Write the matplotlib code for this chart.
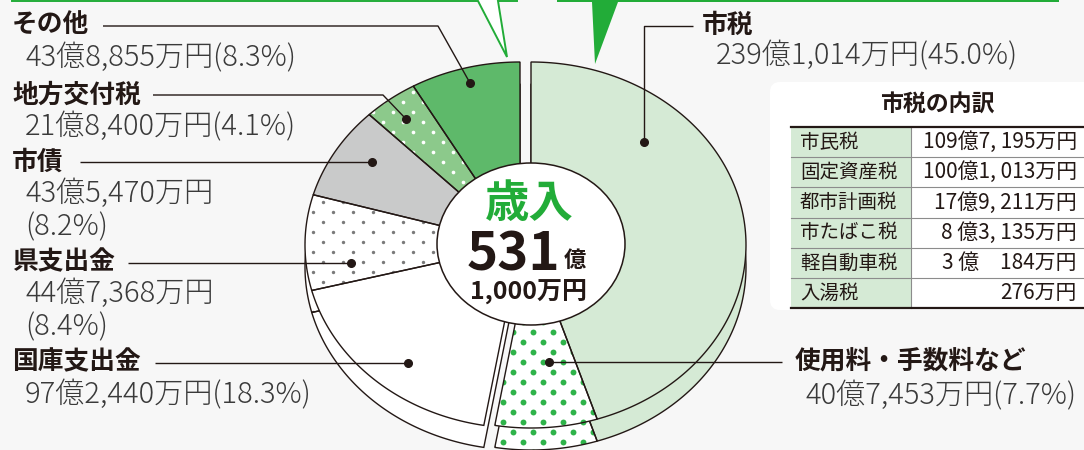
import matplotlib
matplotlib.use('Agg')
import matplotlib.pyplot as plt
from matplotlib.patches import Polygon, Ellipse, Rectangle, FancyBboxPatch
import numpy as np

plt.rcParams['font.family'] = ['Noto Sans CJK JP', 'DejaVu Sans']

# 歳入の内訳 (万円)  -- clockwise from 12 o'clock
names = ['市税', '使用料・手数料など', '国庫支出金', '県支出金', '市債', '地方交付税', 'その他']
amounts = [2391014, 407453, 972440, 447368, 435470, 218400, 438855]
amount_labels = ['239億1,014万円', '40億7,453万円', '97億2,440万円', '44億7,368万円',
                 '43億5,470万円', '21億8,400万円', '43億8,855万円']
pcts = [45.0, 7.7, 18.3, 8.4, 8.2, 4.1, 8.3]

# 市税の内訳
tax_items = ['市民税', '固定資産税', '都市計画税', '市たばこ税', '軽自動車税', '入湯税']
tax_values = ['109億7, 195万円', '100億1, 013万円', '17億9, 211万円',
              '8 億3, 135万円', '3 億　184万円', '276万円']

total_label = ('歳入', '531', '億', '1,000万円')

GREEN = '#22ac38'
INK = '#231815'
GRAY_TXT = '#3a3a3a'
BG = '#f7f7f7'

# face colour, dot colour, dot size
styles = [
    ('#d5ead5', None, 0),
    ('#ffffff', '#2fb34a', 18),
    ('#ffffff', None, 0),
    ('#ffffff', '#7a7a7a', 6),
    ('#c9caca', None, 0),
    ('#8cc98b', '#ffffff', 7),
    ('#5eb96a', None, 0),
]

CX_A, CX_B, CY, RX, RY, DEPTH = 531, 520, 245, 215, 183, 22

fig = plt.figure(figsize=(10.84, 4.5), dpi=100)
fig.patch.set_facecolor(BG)
ax = fig.add_axes([0, 0, 1, 1])
ax.set_xlim(0, 1084)
ax.set_ylim(450, 0)
ax.axis('off')

angles = np.concatenate([[0], np.cumsum(amounts) / sum(amounts) * 360])


def wedge_pts(cx, cy, a0, a1):
    t = np.radians(np.linspace(a0, a1, 150))
    arc = np.column_stack([cx + RX * np.sin(t), cy - RY * np.cos(t)])
    return np.vstack([[cx, cy], arc])


# staggered dot grid used for the patterned slices
gx, gy = np.meshgrid(np.arange(0, 1100, 10), np.arange(0, 470, 10))
keep = ((gx // 10 + gy // 10) % 2 == 0)
grid_x, grid_y = gx[keep] + 3, gy[keep] + 2

for layer, dy, z in [('side', DEPTH, 1), ('top', 0, 2)]:
    for i in range(len(amounts)):
        cx = CX_A if i < 2 else CX_B
        face, dotc, ds = styles[i]
        pts = wedge_pts(cx, CY + dy, angles[i], angles[i + 1])
        poly = Polygon(pts, closed=True, fc=face, ec='none', zorder=z)
        ax.add_patch(poly)
        if dotc:
            sc = ax.scatter(grid_x, grid_y, s=ds, c=dotc, linewidths=0, zorder=z + 0.1)
            sc.set_clip_path(poly)
        ax.add_patch(Polygon(pts, closed=True, fill=False, ec=INK, lw=1.0, zorder=z + 0.2))

# centre
ax.add_patch(Ellipse((531, 244), 188, 162, fc='white', ec=INK, lw=1.1, zorder=3))
ax.text(529, 204, total_label[0], color=GREEN, fontsize=32, fontweight='bold',
        ha='center', va='center', zorder=4)
ax.text(513, 255, total_label[1], color=INK, fontsize=38, fontweight='bold',
        ha='center', va='center', zorder=4)
ax.text(575, 260, total_label[2], color=INK, fontsize=16, fontweight='bold',
        ha='center', va='center', zorder=4)
ax.text(529, 292, total_label[3], color=INK, fontsize=18, fontweight='bold',
        ha='center', va='center', zorder=4)

# top call-outs
ax.add_patch(Polygon([(12, -10), (12, 1), (478, 1), (507, 57), (498, 1), (517, 1), (517, -10)],
                     closed=True, fc='white', ec=GREEN, lw=1.4, zorder=5))
ax.add_patch(Polygon([(557, -10), (557, 2), (592, 2), (595, 64), (618, 2), (1059, 2), (1059, -10)],
                     closed=True, fc=GREEN, ec='none', zorder=5))


def pct(p):
    return f'({p:.1f}%)'


def leader(xs, ys):
    ax.plot(xs, ys, color=INK, lw=1.0, zorder=6, solid_capstyle='butt')
    ax.plot(xs[-1], ys[-1], 'o', color=INK, ms=5.5, zorder=6)


LBL = dict(color=INK, fontsize=18.5, fontweight='bold', va='center', zorder=6)
VAL = dict(color=GRAY_TXT, fontsize=21, fontweight='light', va='center', zorder=6)

# その他
ax.text(12, 25, names[6], **LBL)
ax.text(25, 58, amount_labels[6] + pct(pcts[6]), **VAL)
leader([103, 438, 470], [26, 26, 83])
# 地方交付税
ax.text(12, 95, names[5], **LBL)
ax.text(25, 127, amount_labels[5] + pct(pcts[5]), **VAL)
leader([153, 383, 406], [95, 95, 119])
# 市債
ax.text(12, 162, names[4], **LBL)
ax.text(25, 194, amount_labels[4], **VAL)
ax.text(25, 227, pct(pcts[4]), **VAL)
leader([80, 372], [162, 162])
# 県支出金
ax.text(12, 262, names[3], **LBL)
ax.text(25, 294, amount_labels[3], **VAL)
ax.text(25, 327, pct(pcts[3]), **VAL)
leader([128, 351], [263, 263])
# 国庫支出金
ax.text(12, 362, names[2], **LBL)
ax.text(25, 395, amount_labels[2] + pct(pcts[2]), **VAL)
leader([155, 408], [363, 363])
# 市税
ax.text(702, 25, names[0], **LBL)
ax.text(716, 56, amount_labels[0] + pct(pcts[0]), **VAL)
leader([693, 644, 644], [26, 26, 142])
# 使用料・手数料など
ax.text(795, 361, names[1], **LBL)
ax.text(805, 396, amount_labels[1] + pct(pcts[1]), **VAL)
leader([782, 549], [362, 362])

# 市税の内訳 table
ax.add_patch(FancyBboxPatch((770, 82), 330, 228, boxstyle='round,pad=0,rounding_size=10',
                            fc='white', ec='none', zorder=4.5))
ax.text(937, 105, '市税の内訳', color=INK, fontsize=16.5, fontweight='bold',
        ha='center', va='center', zorder=6)
row_top, row_h = 127, 30.2
x0, xm, x1 = 791, 911, 1084
for r, (item, val) in enumerate(zip(tax_items, tax_values)):
    y = row_top + r * row_h
    ax.add_patch(Rectangle((x0, y), xm - x0, row_h, fc='#d5ead5', ec='none', zorder=5))
    ax.add_patch(Rectangle((xm, y), x1 - xm, row_h, fc='white', ec='none', zorder=5))
    ax.text(x0 + 9, y + row_h / 2, item, color=INK, fontsize=14, va='center', zorder=6)
    ax.text(1077, y + row_h / 2, val, color=INK, fontsize=15, ha='right', va='center', zorder=6)
    if r > 0:
        ax.plot([x0, x1], [y, y], color='#8c8c8c', lw=0.8, zorder=6)
ax.plot([xm, xm], [row_top, row_top + 6 * row_h], color='#8c8c8c', lw=0.8, zorder=6)
ax.plot([x0, x1], [row_top, row_top], color=INK, lw=1.6, zorder=6)
ax.plot([x0, x1], [row_top + 6 * row_h] * 2, color=INK, lw=1.6, zorder=6)

fig.savefig('out.png', dpi=100, facecolor=fig.get_facecolor())
